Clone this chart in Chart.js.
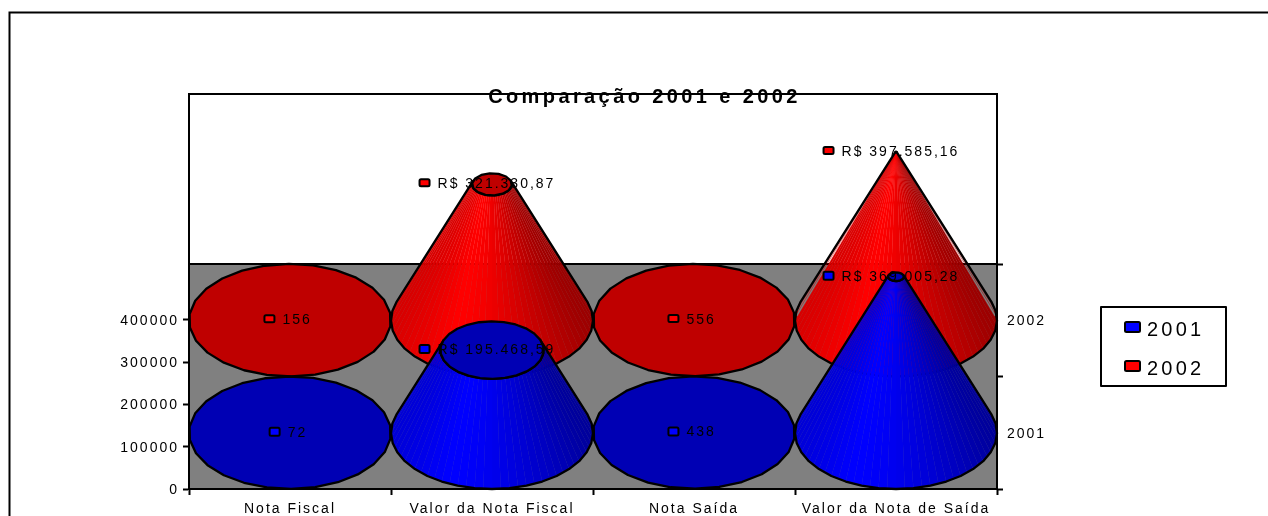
<!DOCTYPE html>
<html>
<head>
<meta charset="utf-8">
<style>html,body{margin:0;padding:0;background:#fff;overflow:hidden}canvas{display:block}</style>
<script src="https://cdn.jsdelivr.net/npm/chart.js@4"></script>
</head>
<body>
<canvas id="chart" width="1268" height="516"></canvas>
<script>
// ── Data ───────────────────────────────────────────────────
const categories = ['Nota Fiscal', 'Valor da Nota Fiscal', 'Nota Saída', 'Valor da Nota de Saída'];
const seriesDepth = ['2002', '2001'];
const values2001 = [72, 195468.59, 438, 369005.28];
const values2002 = [156, 321330.87, 556, 397585.16];
const labels2001 = ['72', 'R$ 195.468,59', '438', 'R$ 369.005,28'];
const labels2002 = ['156', 'R$ 321.330,87', '556', 'R$ 397.585,16'];
const valueTicks = [0, 100000, 200000, 300000, 400000];
const chartTitle = 'Comparação 2001 e 2002';

// ── Style ──────────────────────────────────────────────────
const FONT = "'Liberation Sans', Arial, sans-serif";
const COLORS = {
  2001: { key: '#0000ff', top: '#0000b4', ramp: c => `rgb(0,0,${shade(c)})` },
  2002: { key: '#ff0000', top: '#bf0000', ramp: c => `rgb(${shade(c)},0,0)` },
};

// brightness of a cone facet from its horizontal direction (-1 left, 1 right)
function shade(c) {
  if (c < -0.45) return Math.round(215 + (c + 1) / 0.55 * 40);
  return Math.round(255 - Math.pow((c + 0.45) / 1.45, 1.5) * 100);
}

function ellipsePath(ctx, cx, cy, a, b, sides) {
  ctx.beginPath();
  for (let i = 0; i < sides; i++) {
    const t = i / sides * Math.PI * 2 + 0.11;
    ctx.lineTo(cx + a * Math.cos(t), cy + b * Math.sin(t));
  }
  ctx.closePath();
}

function drawCone(ctx, cx, cy, a, b, fullH, value, coneMax, color) {
  const frac = value / coneMax;
  const h = fullH * frac;
  const t = 1 - frac;
  const phi = Math.asin(Math.min(1, b / fullH));
  const N = 44;
  const start = -phi;
  const span = Math.PI + 2 * phi;
  const ang = i => start + span * i / N;

  if (frac > 0.01) {
    for (let i = 0; i < N; i++) {
      const a0 = ang(i), a1 = ang(i + 1);
      ctx.beginPath();
      ctx.moveTo(cx + a * Math.cos(a0), cy + b * Math.sin(a0));
      ctx.lineTo(cx + a * Math.cos(a1), cy + b * Math.sin(a1));
      ctx.lineTo(cx + a * t * Math.cos(a1), cy - h + b * t * Math.sin(a1));
      ctx.lineTo(cx + a * t * Math.cos(a0), cy - h + b * t * Math.sin(a0));
      ctx.closePath();
      const col = color.ramp(Math.cos((a0 + a1) / 2));
      ctx.fillStyle = col;
      ctx.fill();
      // thin own-colour edge so the seams stay faint
      ctx.save();
      ctx.strokeStyle = col;
      ctx.lineWidth = 0.3;
      ctx.stroke();
      ctx.restore();
    }
    ctx.beginPath();
    for (let i = 0; i <= N; i += 2) ctx.lineTo(cx + a * Math.cos(ang(i)), cy + b * Math.sin(ang(i)));
    for (let i = N; i >= 0; i -= 2) ctx.lineTo(cx + a * t * Math.cos(ang(i)), cy - h + b * t * Math.sin(ang(i)));
    ctx.closePath();
    ctx.stroke();
  }
  // flat top of the cone
  ellipsePath(ctx, cx, cy - h, a * t, b * t, t > 0.3 ? 26 : 14);
  ctx.fillStyle = color.top;
  ctx.fill();
  ctx.stroke();
}

function drawKey(ctx, x, y, w, h, fill) {
  ctx.beginPath();
  ctx.roundRect(x, y, w, h, 1.5);
  ctx.fillStyle = fill;
  ctx.fill();
  ctx.lineWidth = 2;
  ctx.strokeStyle = '#000';
  ctx.stroke();
}

// ── Plugin: walls, cones, value labels, title, legend ──────
const conePlugin = {
  id: 'cones',
  beforeDraw(chart) {
    const { ctx, chartArea: area } = chart;
    ctx.letterSpacing = '2px';
    ctx.save();
    ctx.strokeStyle = '#000';
    ctx.lineWidth = 2;
    // outer frame, runs off the picture on the right and at the bottom
    ctx.beginPath();
    ctx.moveTo(9.5, 560);
    ctx.lineTo(9.5, 12.5);
    ctx.lineTo(1300, 12.5);
    ctx.stroke();
    // back wall + floor
    ctx.fillStyle = '#fff';
    ctx.fillRect(area.left, 94, area.width, area.top - 94);
    ctx.strokeRect(area.left, 94, area.width, area.top - 94);
    ctx.fillStyle = '#808080';
    ctx.fillRect(area.left, area.top, area.width, area.height);
    ctx.beginPath();
    ctx.moveTo(area.left, area.top);
    ctx.lineTo(area.right, area.top);
    ctx.stroke();
    ctx.restore();
  },
  afterDatasetsDraw(chart) {
    const { ctx, scales, chartArea: area } = chart;
    const { x, y, y2 } = scales;
    const zero = y.getPixelForValue(0);
    const coneMax = valueTicks[valueTicks.length - 1];
    const fullH = zero - y.getPixelForValue(coneMax);
    const a = area.width / categories.length / 2;
    const b = area.height / seriesDepth.length / 2;

    ctx.save();
    ctx.lineWidth = 2.3;
    ctx.lineJoin = 'round';
    ctx.strokeStyle = '#000';
    // back row first
    seriesDepth.forEach((name, row) => {
      const ds = chart.data.datasets.find(d => d.label === name);
      const cy = y2.getPixelForValue(row);
      ds.data.forEach((v, i) => {
        drawCone(ctx, x.getPixelForValue(i), cy, a, b, fullH, v, coneMax, COLORS[name]);
      });
    });

    // data labels sit on top of everything
    ctx.font = `14px ${FONT}`;
    ctx.textBaseline = 'middle';
    seriesDepth.forEach((name, row) => {
      const ds = chart.data.datasets.find(d => d.label === name);
      const cy = y2.getPixelForValue(row);
      ds.data.forEach((v, i) => {
        const text = ds.valueLabels[i];
        const tw = ctx.measureText(text).width;
        const left = x.getPixelForValue(i) - (10 + 8 + tw) / 2 - 1 - tw * 0.03;
        const py = cy - (zero - y.getPixelForValue(v));
        drawKey(ctx, left, py - 5, 10, name === '2002' ? 7 : 8, COLORS[name].key);
        ctx.fillStyle = '#000';
        ctx.textAlign = 'left';
        ctx.fillText(text, left + 18, py);
      });
    });

    // title
    ctx.font = `bold 20px ${FONT}`;
    ctx.letterSpacing = '3.4px';
    ctx.textAlign = 'center';
    ctx.fillStyle = '#000';
    ctx.fillText(chartTitle, 644.5, 97);

    // legend box
    ctx.fillStyle = '#fff';
    ctx.fillRect(1101, 307, 125, 79);
    ctx.lineWidth = 2;
    ctx.strokeRect(1101, 307, 125, 79);
    ctx.font = `20px ${FONT}`;
    ctx.letterSpacing = '3.2px';
    ctx.textAlign = 'left';
    ['2001', '2002'].forEach((name, i) => {
      drawKey(ctx, 1125, 322 + i * 39, 15, 10, COLORS[name].key);
      ctx.fillStyle = '#000';
      ctx.fillText(name, 1147, 330 + i * 39);
    });
    ctx.restore();
  },
};

// ── Chart ──────────────────────────────────────────────────
new Chart(document.getElementById('chart'), {
  type: 'bar',
  plugins: [conePlugin],
  data: {
    labels: categories,
    datasets: [
      { label: '2001', data: values2001, valueLabels: labels2001, backgroundColor: 'transparent', yAxisID: 'y' },
      { label: '2002', data: values2002, valueLabels: labels2002, backgroundColor: 'transparent', yAxisID: 'y' },
    ],
  },
  options: {
    responsive: false,
    animation: false,
    events: [],
    layout: { padding: { top: 264, left: 0, right: 0, bottom: 0 } },
    plugins: { legend: { display: false }, title: { display: false }, tooltip: { enabled: false } },
    scales: {
      x: {
        grid: { drawOnChartArea: false, tickLength: 6, tickWidth: 2, tickColor: '#000' },
        border: { color: '#000', width: 2 },
        ticks: { color: '#000', font: { family: FONT, size: 14 }, padding: 6, maxRotation: 0, autoSkip: false },
        afterFit(scale) { scale.height = 27; },
      },
      y: {
        min: 0,
        max: 532000,
        grid: { drawOnChartArea: false, tickLength: 6, tickWidth: 2, tickColor: '#000' },
        border: { color: '#000', width: 2 },
        ticks: { color: '#000', font: { family: FONT, size: 14 }, padding: 4, labelOffset: 1, callback: v => String(v) },
        afterBuildTicks(scale) { scale.ticks = valueTicks.map(v => ({ value: v })); },
        afterFit(scale) { scale.width = 189; },
      },
      y2: {
        type: 'category',
        labels: seriesDepth,
        position: 'right',
        offset: true,
        grid: { offset: true, drawOnChartArea: false, tickLength: 6, tickWidth: 2, tickColor: '#000' },
        border: { color: '#000', width: 2 },
        ticks: { color: '#000', font: { family: FONT, size: 14 }, padding: 4, labelOffset: 1, autoSkip: false },
        afterFit(scale) { scale.width = 271; },
      },
    },
  },
});
</script>
</body>
</html>
